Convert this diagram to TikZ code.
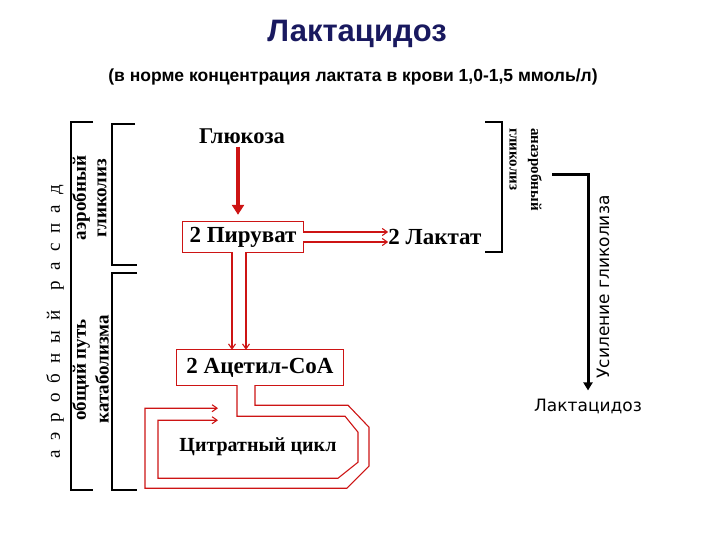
\documentclass[tikz,border=0pt]{standalone}
\usepackage{fontspec}
\setmainfont{Liberation Serif}
\setsansfont{Liberation Sans}
\newfontfamily\dvsans{DejaVu Sans}
\usetikzlibrary{arrows.meta, positioning, calc}
\definecolor{pipered}{RGB}{205,20,20}
\definecolor{navy}{RGB}{25,25,95}
\tikzset{
  lbl/.style    ={font=\bfseries\fontsize{23}{25}\selectfont, inner sep=0pt},
  side/.style   ={font=\bfseries\fontsize{19}{20}\selectfont, inner sep=0pt, rotate=90},
  rside/.style  ={font=\bfseries\fontsize{15}{16}\selectfont, inner sep=0pt, rotate=-90, anchor=west},
  pipe/.style   ={draw=pipered, line width=1.1pt},
  parr/.style   ={pipe, -{Straight Barb[length=5pt, width=7pt]}},
  brk/.style    ={line width=1.1pt},
}

\begin{document}
\begin{tikzpicture}[x=1pt, y=-1pt]
  \useasboundingbox (0,0) rectangle (720,540);
  % headings
  \node[font=\sffamily\bfseries\fontsize{31}{33}\selectfont, text=navy] (title) at (357,34) {Лактацидоз};
  \node[font=\sffamily\bfseries\fontsize{17.5}{19}\selectfont] (norm) at (353,77)
       {(в норме концентрация лактата в крови 1,0-1,5 ммоль/л)};

  % metabolites
  \node[lbl, font=\bfseries\fontsize{22.5}{24}\selectfont] (glu) at (242,136) {Глюкоза};
  \node[lbl, minimum width=120pt, minimum height=30pt]     (pyr)  at (243,237) {2 Пируват};
  \node[lbl, right=85pt of pyr]                              (lac)  {2 Лактат};
  \node[lbl, minimum width=166pt, minimum height=35pt]     (acoa) at (260,367.5) {2 Ацетил-CoA};
  \node[lbl, font=\bfseries\fontsize{20}{22}\selectfont]  (tca)  at (258,447) {Цитратный цикл};

  % box outlines with openings for the pipes
  \coordinate (pl) at ($(pyr.south)+(-11,0)$);
  \coordinate (pr) at ($(pyr.south)+(3,0)$);
  \coordinate (pu) at ($(pyr.east)+(0,-5)$);
  \coordinate (pd) at ($(pyr.east)+(0,5)$);
  \draw[pipe] (pl) -- (pyr.south west) -- (pyr.north west) -- (pyr.north east) -- (pu);
  \draw[pipe] (pd) -- (pyr.south east) -- (pr);
  \coordinate (ai) at ($(acoa.south)+(-23,0)$);
  \coordinate (ao) at ($(acoa.south)+(-5,0)$);
  \draw[pipe] (ai) -- (acoa.south west) -- (acoa.north west) -- (acoa.north east)
              -- (acoa.south east) -- (ao);

  % glucose -> pyruvate
  \draw[pipered, line width=3.5pt, -{Triangle[length=10pt, width=12pt]}]
       ([xshift=-4pt, yshift=-3pt]glu.south) -- ([xshift=-5pt, yshift=7pt]pyr.north);

  % pyruvate -> lactate
  \draw[parr] (pu) -- (pu -| lac.west);
  \draw[parr] (pd) -- (pd -| lac.west);

  % pyruvate -> acetyl-CoA
  \draw[parr] (pl) -- (pl |- acoa.north);
  \draw[parr] (pr) -- (pr |- acoa.north);

  % citrate cycle loop
  \draw[parr] (ao) -- ++(0,20) -- ++(93,0) -- ++(21,22) -- ++(0,39) -- ++(-22,22)
              -- ++(-202,0) -- ++(0,-80) -- ++(73,0);
  \draw[parr] (ai) -- ++(0,31) -- ++(108,0) -- ++(13,16) -- ++(0,30) -- ++(-20,16)
              -- ++(-180,0) -- ++(0,-58) -- ++(60,0);

  % left brackets
  \draw[brk] (93,122) -- (71,122) -- (71,490) -- (93,490);
  \draw[brk] (135,124) -- (112,124) -- (112,265) -- (137,265);
  \draw[brk] (137,273) -- (112,273) -- (112,490) -- (137,490);
  \node[font=\fontsize{19}{20}\selectfont\addfontfeature{LetterSpace=28}, inner sep=0pt, rotate=90]
       (aer) at (55,322) {а э р о б н ы й\ \ р а с п а д};
  \node[side] (aer1) at (81,198) {аэробный};
  \node[side] (gly1) at (102,198) {гликолиз};
  \node[side] (com1) at (81,370) {общий путь};
  \node[side] (cat1) at (102,369) {катаболизма};

  % right bracket
  \draw[brk] (485,122) -- (502,122) -- (502,252) -- (485,252);
  \node[rside] (anae) at (535,128) {анаэробный};
  \node[rside] (gly2) at (513,128) {гликолиз};

  % glycolysis up -> lactic acidosis
  \node[font=\dvsans\fontsize{17}{18}\selectfont, inner sep=0pt] (lacid) at (588,406) {Лактацидоз};
  \coordinate (gup) at (552,175);
  \draw[line width=3pt, -{Triangle[length=8pt, width=9pt]}] (gup) -| ([yshift=8pt]lacid.north);
  \node[font=\dvsans\fontsize{17}{18}\selectfont, inner sep=0pt, rotate=90] (enh) at (603,287)
       {Усиление гликолиза};
\end{tikzpicture}
\end{document}
